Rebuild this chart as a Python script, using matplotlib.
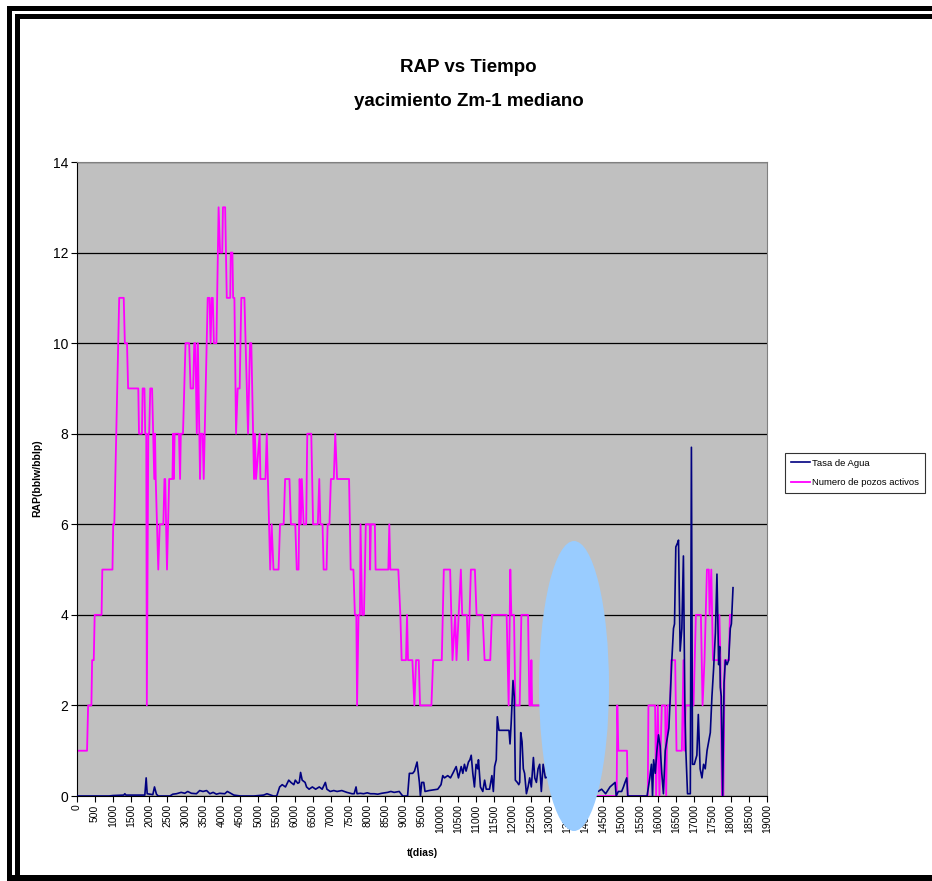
import matplotlib
matplotlib.use("Agg")
import matplotlib.pyplot as plt
from matplotlib.patches import Rectangle, Ellipse

# Numero de pozos activos (t dias, pozos)
pozos_t = [0, 290, 320, 410, 430, 475, 500, 690, 710, 990, 1010, 1040, 1175, 1300, 1330, 1390, 1420,
           1700, 1720, 1800, 1820, 1870, 1890, 1920, 1935, 1975, 2000, 2030, 2080, 2110, 2140, 2160,
           2180, 2250, 2290, 2390, 2420, 2440, 2490, 2550, 2640, 2660, 2680, 2700, 2820, 2850, 2870,
           2930, 3000, 3100, 3140, 3210, 3240, 3270, 3310, 3340, 3400, 3420, 3470, 3500, 3610, 3660,
           3690, 3720, 3750, 3780, 3850, 3910, 3950, 4010, 4030, 4090, 4135, 4230, 4245, 4290, 4310,
           4345, 4390, 4435, 4490, 4535, 4620, 4720, 4775, 4810, 4885, 4910, 4940, 5040, 5060, 5200,
           5235, 5330, 5370, 5420, 5560, 5600, 5700, 5740, 5860, 5900, 6020, 6060, 6110, 6140, 6170,
           6200, 6250, 6320, 6350, 6460, 6510, 6640, 6680, 6710, 6770, 6800, 6880, 6910, 6960, 7000,
           7080, 7120, 7170, 7500, 7545, 7620, 7660, 7700, 7720, 7760, 7800, 7815, 7860, 7910, 7960,
           8070, 8080, 8100, 8210, 8230, 8580, 8607, 8635, 8855, 8911, 8947, 9067, 9095, 9122, 9242,
           9297, 9343, 9417, 9453, 9766, 9812, 10051, 10107, 10281, 10346, 10420, 10456, 10576, 10613,
           10741, 10778, 10852, 10962, 11008, 11174, 11229, 11385, 11431, 11836, 11891, 11937, 11965,
           12039, 12075, 12195, 12241, 12425, 12462, 12500, 12517, 12535, 12719, 13000, 13400, 13800,
           14300, 14863, 14881, 14909, 15148, 15166, 15719, 15737, 15921, 15949, 15995, 16040, 16105,
           16197, 16225, 16261, 16335, 16363, 16473, 16510, 16657, 16700, 16730, 16760, 16979, 17043,
           17181, 17227, 17280, 17347, 17400, 17420, 17467, 17513, 17669, 17690, 17720, 17761, 17800,
           17835, 17950, 17980, 18037]
pozos_v = [1, 1, 2, 2, 3, 3, 4, 4, 5, 5, 6, 6, 11, 11, 10, 10, 9,
           9, 8, 8, 9, 9, 8, 8, 2, 8, 8, 9, 9, 8, 7, 8,
           7, 5, 6, 6, 7, 7, 5, 7, 7, 8, 7, 8, 8, 7, 8,
           8, 10, 10, 9, 9, 10, 10, 8, 10, 7, 8, 8, 7, 11, 11,
           10, 11, 11, 10, 10, 13, 12, 12, 13, 13, 11, 11, 12, 12, 11,
           11, 8, 9, 9, 11, 11, 8, 10, 10, 7, 8, 7, 8, 7, 7,
           8, 5, 6, 5, 5, 6, 6, 7, 7, 6, 6, 5, 5, 7, 6,
           7, 6, 6, 8, 8, 6, 6, 7, 6, 6, 5, 5, 6, 6, 7,
           7, 8, 7, 7, 5, 5, 4, 4, 2, 4, 4, 6, 4, 4, 6,
           6, 5, 6, 6, 5, 5, 6, 5, 5, 4, 3, 3, 4, 3, 3,
           2, 3, 3, 2, 2, 3, 3, 5, 5, 3, 4, 3, 5, 4,
           4, 3, 5, 5, 4, 4, 3, 3, 4, 4, 2, 5, 4,
           4, 2, 2, 4, 4, 2, 2, 3, 2, 2, 2, 1, 0,
           0, 0, 2, 1, 1, 0, 0, 2, 2, 0, 2, 0, 2,
           2, 0, 2, 2, 3, 3, 1, 1, 3, 1, 2, 2, 4,
           4, 2, 3, 5, 5, 4, 5, 3, 3, 4, 3, 0, 0,
           3, 3, 4, 4]

# Tasa de Agua (t dias, RAP)
agua_t = [0, 900, 1000, 1300, 1330, 1360, 1880, 1917, 1945, 2100, 2146, 2200, 2250, 2570, 2650, 2750,
          2880, 2980, 3060, 3160, 3300, 3390, 3480, 3580, 3670, 3760, 3850, 3940, 4080, 4150, 4220,
          4330, 4510, 4880, 5150, 5240, 5420, 5510, 5590, 5660, 5750, 5840, 5900, 5980, 6020, 6090,
          6130, 6166, 6210, 6290, 6330, 6400, 6490, 6580, 6680, 6760, 6848, 6890, 6980, 7080, 7170,
          7300, 7440, 7582, 7640, 7692, 7720, 7810, 7900, 8000, 8090, 8190, 8290, 8400, 8560, 8650,
          8740, 8880, 8975, 9110, 9159, 9250, 9300, 9371, 9435, 9463, 9500, 9555, 9590, 9700, 9940,
          10030, 10079, 10125, 10215, 10290, 10355, 10447, 10510, 10585, 10630, 10675, 10720, 10785,
          10825, 10861, 10905, 10950, 10995, 11040, 11060, 11115, 11180, 11230, 11275, 11365, 11430,
          11470, 11505, 11550, 11579, 11625, 11900, 11929, 11960, 12011, 12045, 12075, 12130, 12170,
          12195, 12223, 12260, 12295, 12330, 12380, 12425, 12470, 12515, 12572, 12610, 12655, 12700,
          12745, 12790, 12840, 12900, 13200, 13600, 14000, 14350, 14450, 14560, 14680, 14820, 14850,
          14910, 15000, 15050, 15093, 15140, 15170, 15700, 15775, 15820, 15850, 15880, 15925, 15970,
          16015, 16060, 16105, 16150, 16200, 16300, 16381, 16427, 16455, 16491, 16545, 16565, 16610,
          16657, 16700, 16740, 16767, 16813, 16890, 16920, 16950, 17000, 17070, 17110, 17160, 17210,
          17255, 17300, 17350, 17395, 17440, 17485, 17530, 17580, 17623, 17670, 17697, 17715, 17742,
          17780, 17818, 17855, 17900, 17945, 17990, 18020, 18065]
agua_v = [0, 0, 0.01, 0.02, 0.05, 0.02, 0.02, 0.4, 0.05, 0.03, 0.2, 0.04, 0, 0, 0.04, 0.05,
          0.08, 0.06, 0.1, 0.06, 0.05, 0.12, 0.1, 0.12, 0.05, 0.08, 0.04, 0.06, 0.05, 0.1, 0.07,
          0.02, 0, 0, 0.02, 0.05, 0, 0, 0.2, 0.25, 0.2, 0.35, 0.3, 0.25, 0.35, 0.28,
          0.3, 0.52, 0.35, 0.3, 0.2, 0.15, 0.2, 0.15, 0.2, 0.15, 0.3, 0.15, 0.1, 0.12, 0.1,
          0.12, 0.08, 0.05, 0.05, 0.2, 0.05, 0.06, 0.05, 0.07, 0.05, 0.05, 0.04, 0.06, 0.08, 0.1,
          0.08, 0.1, 0, 0, 0.5, 0.5, 0.55, 0.75, 0.3, 0, 0.3, 0.3, 0.1, 0.12, 0.15,
          0.25, 0.45, 0.4, 0.45, 0.4, 0.5, 0.65, 0.4, 0.65, 0.5, 0.7, 0.55, 0.75,
          0.8, 0.9, 0.5, 0.2, 0.7, 0.6, 0.8, 0.2, 0.1, 0.35, 0.15, 0.15, 0.45,
          0.1, 0.65, 0.8, 1.75, 1.45, 1.45, 1.15, 1.6, 2.55, 2.2, 0.35, 0.3, 0.25,
          0.3, 1.4, 1.2, 0.6, 0.5, 0.05, 0.2, 0.4, 0.2, 0.85, 0.4, 0.3, 0.6,
          0.7, 0.1, 0.7, 0.4, 0.5, 0.3, 0.2, 0.1, 0.15, 0.05, 0.2, 0.3, 0.0,
          0.1, 0.1, 0.2, 0.3, 0.4, 0, 0, 0.4, 0.7, 0.0, 0.8, 0.5, 1.0,
          1.35, 1.1, 0.5, 0.05, 1.0, 1.5, 3.0, 3.7, 3.8, 5.5, 5.6, 5.65, 3.2,
          3.7, 5.3, 2.0, 1.0, 0.05, 0.05, 7.7, 0.7, 0.7, 0.9, 1.8, 0.6, 0.4,
          0.7, 0.6, 1.0, 1.2, 1.4, 2.2, 2.8, 3.6, 4.9, 2.9, 3.3, 2.4, 2.2,
          0.0, 2.5, 3.0, 2.9, 3.0, 3.7, 3.8, 4.6]

x_ticks = list(range(0, 19001, 500))
y_ticks = list(range(0, 15, 2))

W, H = 932, 881
plt.rcParams['font.family'] = ['Liberation Sans', 'DejaVu Sans']

fig = plt.figure(figsize=(W / 100, H / 100), dpi=100)
fig.patch.set_facecolor('white')

ax = fig.add_axes([76.5 / W, 1 - 796 / H, (767 - 76.5) / W, (796 - 162) / H])
ax.set_facecolor('#C0C0C0')

ax.plot(agua_t, agua_v, color='#000080', lw=1.2, label='Tasa de Agua', zorder=3)
ax.plot(pozos_t, pozos_v, color='#FF00FF', lw=1.3, label='Numero de pozos activos', zorder=2)

ax.set_xlim(0, 19000)
ax.set_ylim(0, 14)
ax.set_xticks(x_ticks)
ax.set_xticklabels([str(v) for v in x_ticks], rotation=90, fontsize=7.5)
ax.set_yticks(y_ticks)
ax.set_yticklabels([str(v) for v in y_ticks], fontsize=10)
ax.tick_params(axis='both', direction='out', length=4, width=0.8, color='black', pad=2)
ax.yaxis.grid(True, color='black', lw=0.9)
ax.set_axisbelow(True)
for side in ['top', 'right']:
    ax.spines[side].set_color('#808080')
for side in ['left', 'bottom']:
    ax.spines[side].set_color('black')

fig.text(0.503, 1 - 68 / H, 'RAP vs Tiempo', ha='center', va='center',
         fontsize=13.5, fontweight='bold')
fig.text(0.503, 1 - 101 / H, 'yacimiento Zm-1 mediano', ha='center', va='center',
         fontsize=13.5, fontweight='bold')
fig.text(37 / W, 1 - 478 / H, 'RAP(bblw/bblp)', rotation=90, ha='center', va='center',
         fontsize=7.5, fontweight='bold')
fig.text(422 / W, 1 - 853 / H, 't(dias)', ha='center', va='center',
         fontsize=7.5, fontweight='bold')

leg = fig.legend(loc='upper left', bbox_to_anchor=(785 / W, 1 - 453 / H),
                 frameon=True, fancybox=False, handlelength=2.0, borderaxespad=0,
                 handletextpad=0.3, borderpad=0.6, labelspacing=1.1,
                 prop={'size': 6.8})
leg.get_frame().set_edgecolor('black')
leg.get_frame().set_linewidth(0.8)

# light blue ellipse drawn over the chart
fig.add_artist(Ellipse((574 / W, 1 - 686 / H), 70 / W, 290 / H, transform=fig.transFigure,
                       facecolor='#99CCFF', edgecolor='none', zorder=10))

# double black frame
def band(x0, y0, x1, y1):
    fig.add_artist(Rectangle((x0 / W, 1 - y1 / H), (x1 - x0) / W, (y1 - y0) / H,
                             transform=fig.transFigure, facecolor='black',
                             edgecolor='none', zorder=11))

band(7, 6, 12, H)
band(7, 6, W, 11)
band(15, 14, 20, H)
band(15, 14, W, 19)
band(7, 875, W, H)

fig.savefig('out.png', dpi=100, facecolor='white')
